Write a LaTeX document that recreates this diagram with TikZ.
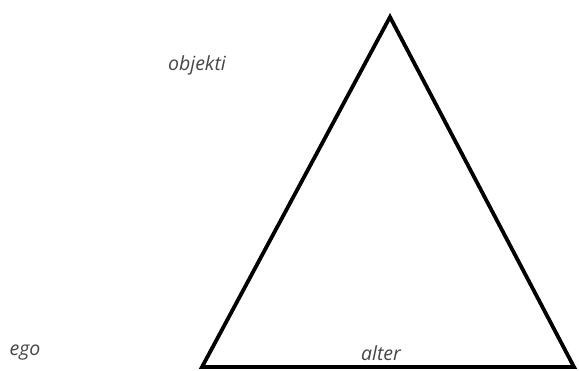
\documentclass[tikz,border=0pt]{standalone}
\usepackage{fontspec}
\setmainfont{Open Sans}
\definecolor{labelgrey}{RGB}{70,70,70}
\usetikzlibrary{positioning}

\begin{document}
\begin{tikzpicture}[x=1pt,y=-1pt,
    lbl/.style={text=labelgrey, font=\itshape\fontsize{19.5}{22}\selectfont, inner sep=0pt},
    side/.style={line width=3.8pt, line join=miter}]
    \useasboundingbox (0,0) rectangle (579,370);

    % Triangle corners
    \coordinate (top) at (390,17);
    \coordinate (left) at (202,367);
    \coordinate (right) at (574,367);

    % Triangle
    \draw[side] (top) -- (right) -- (left) -- cycle;

    % Labels
    \node[lbl] (objekti) at (197,65) {objekti};
    \node[lbl] (ego) at (25,353) {ego};
    \node[lbl] (alter) at (381,353) {alter};
\end{tikzpicture}
\end{document}
